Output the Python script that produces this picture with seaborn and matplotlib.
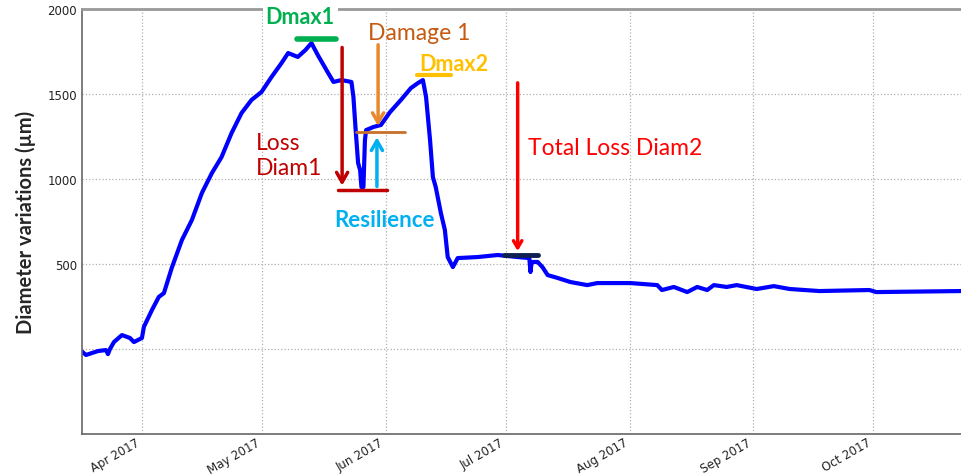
import pandas as pd
import matplotlib.pyplot as plt
import matplotlib.dates as mdates
import seaborn as sns

# Stem diameter variation series
dates = [
    "2017-03-17", "2017-03-18", "2017-03-21", "2017-03-23", "2017-03-23 12:00",
    "2017-03-24", "2017-03-25", "2017-03-27", "2017-03-29", "2017-03-30",
    "2017-04-01", "2017-04-01 12:00", "2017-04-03 12:00", "2017-04-05 05:00", "2017-04-06 12:00",
    "2017-04-08 12:00", "2017-04-11", "2017-04-13 12:00", "2017-04-16", "2017-04-18 12:00",
    "2017-04-20 22:00", "2017-04-23 10:00", "2017-04-25 22:00", "2017-04-28 10:00", "2017-04-30 22:00",
    "2017-05-03 10:00", "2017-05-05 22:00", "2017-05-07 14:00", "2017-05-10", "2017-05-11 22:00",
    "2017-05-13 10:00", "2017-05-15", "2017-05-17 14:00", "2017-05-18 22:00", "2017-05-20 22:00",
    "2017-05-23 10:00", "2017-05-23 22:00", "2017-05-24 10:00", "2017-05-25 02:00", "2017-05-25 14:00",
    "2017-05-25 22:00", "2017-05-26 10:00", "2017-05-26 19:00", "2017-05-27 02:00", "2017-05-28 22:00",
    "2017-05-30 19:00", "2017-06-02 02:00", "2017-06-04 19:00", "2017-06-07 07:00", "2017-06-09 02:00",
    "2017-06-10 07:00", "2017-06-11 02:00", "2017-06-12 02:00", "2017-06-12 19:00", "2017-06-13 12:00",
    "2017-06-14 19:00", "2017-06-15 19:00", "2017-06-16 12:00", "2017-06-17 19:00", "2017-06-19",
    "2017-06-24", "2017-06-29", "2017-07-04", "2017-07-06 22:00", "2017-07-07 05:00",
    "2017-07-07 12:00", "2017-07-09", "2017-07-10 05:00", "2017-07-11 12:00", "2017-07-14",
    "2017-07-17 05:00", "2017-07-21 10:00", "2017-07-23 22:00", "2017-08-01 05:00", "2017-08-07 22:00",
    "2017-08-09 02:00", "2017-08-12 02:00", "2017-08-15 10:00", "2017-08-17 22:00", "2017-08-20 10:00",
    "2017-08-22 02:00", "2017-08-25 07:00", "2017-08-27 19:00", "2017-09-01 19:00", "2017-09-06 02:00",
    "2017-09-10 02:00", "2017-09-17 12:00", "2017-09-30", "2017-10-01 17:00", "2017-10-22 22:00",
]
diameter = [
    -15, -35, -12, -6, -30,
    0, 41, 82, 65, 41,
    65, 131, 229, 306, 329,
    480, 641, 759, 918, 1035,
    1129, 1270, 1388, 1465, 1512,
    1600, 1682, 1741, 1718, 1759,
    1800, 1729, 1624, 1571, 1582,
    1571, 1482, 1306, 1094, 1053,
    953, 953, 1229, 1288, 1306,
    1318, 1394, 1465, 1535, 1565,
    1582, 1482, 1229, 1012, 953,
    800, 700, 541, 482, 535,
    541, 553, 541, 535, 453,
    512, 512, 482, 435, 418,
    394, 376, 388, 388, 376,
    347, 365, 335, 365, 347,
    376, 365, 376, 353, 370,
    353, 341, 347, 335, 341,
]

y_ticks = [0, 500, 1000, 1500, 2000]
y_tick_labels = ["", "500", "1000", "1500", "2000"]

df = pd.DataFrame({"date": pd.to_datetime(dates, format="mixed"), "diameter": diameter})
t = pd.Timestamp

sns.set_style("white")
plt.rcParams["font.family"] = ["DejaVu Sans"]

fig = plt.figure(figsize=(9.61, 4.77), dpi=100)
ax = fig.add_axes([0.0853, 0.088, 0.9147, 0.891])

sns.lineplot(data=df, x="date", y="diameter", color="#0000FF", linewidth=3, ax=ax)

ax.set_xlim(t("2017-03-17 00:00"), t("2017-10-22 22:00"))
ax.set_ylim(-500, 2000)
ax.set_yticks(y_ticks)
ax.set_yticklabels(y_tick_labels)
ax.xaxis.set_major_locator(mdates.MonthLocator())
ax.xaxis.set_major_formatter(mdates.DateFormatter("%b %Y"))
ax.set_xlabel("")
ax.set_ylabel("Diameter variations (µm)", fontsize=14.5, fontweight="bold",
              family=["Lato", "DejaVu Sans"], labelpad=8)
ax.grid(True, color="#b0b0b0", linestyle=":", linewidth=0.9)
ax.tick_params(axis="both", labelsize=8.5, labelcolor="#222222", direction="in",
               length=4, color="#666666")
ax.tick_params(axis="x", pad=1)
plt.setp(ax.get_xticklabels(), rotation=30, ha="right")

for side in ["left", "bottom"]:
    ax.spines[side].set_color("#666666")
    ax.spines[side].set_linewidth(1.2)
ax.spines["top"].set_color("#999999")
ax.spines["top"].set_linewidth(2)
ax.spines["right"].set_visible(False)

fam = ["Lato", "DejaVu Sans"]

# Dmax1
ax.plot([t("2017-05-09 22:00"), t("2017-05-19 14:00")], [1823, 1823], color="#00B050", lw=4)
ax.text(t("2017-05-10 14:00"), 1955, "Dmax1", color="#00B050", fontsize=15.5, fontweight="bold",
        family=fam, ha="center", va="center", zorder=5, clip_on=False,
        bbox=dict(facecolor="white", edgecolor="none", pad=2))

# Loss Diam1
ax.annotate("", xy=(t("2017-05-21 02:00"), 945), xytext=(t("2017-05-21 02:00"), 1790),
            arrowprops=dict(arrowstyle="->,head_length=0.7,head_width=0.4", color="#C00000", lw=2.5))
ax.plot([t("2017-05-20"), t("2017-06-01 07:00")], [935, 935], color="#C00000", lw=2.5)
ax.text(t("2017-04-29 10:00"), 1141, "Loss\nDiam1", color="#C00000", fontsize=16.5,
        family=fam, ha="left", va="center", linespacing=1.25)

# Damage 1
ax.annotate("", xy=(t("2017-05-30 02:00"), 1295), xytext=(t("2017-05-30 02:00"), 1806),
            arrowprops=dict(arrowstyle="->,head_length=0.7,head_width=0.4", color="#E8892B", lw=2.5))
ax.plot([t("2017-05-24 14:00"), t("2017-06-05 19:00")], [1276, 1276], color="#C8702A", lw=2)
ax.text(t("2017-05-27 14:00"), 1859, "Damage 1", color="#C55A11", fontsize=16.5,
        family=fam, ha="left", va="center")

# Resilience
ax.annotate("", xy=(t("2017-05-29 19:00"), 1262), xytext=(t("2017-05-29 19:00"), 940),
            arrowprops=dict(arrowstyle="->,head_length=0.7,head_width=0.4", color="#00B0F0", lw=2.5))
ax.text(t("2017-05-31 19:00"), 759, "Resilience", color="#00B0F0", fontsize=16, fontweight="bold",
        family=fam, ha="center", va="center")

# Dmax2
ax.plot([t("2017-06-08 19:00"), t("2017-06-17 07:00")], [1612, 1612], color="#FFC000", lw=3)
ax.text(t("2017-06-18"), 1682, "Dmax2", color="#FFC000", fontsize=15.5, fontweight="bold",
        family=fam, ha="center", va="center")

# Total Loss Diam2
ax.annotate("", xy=(t("2017-07-04"), 560), xytext=(t("2017-07-04"), 1582),
            arrowprops=dict(arrowstyle="->,head_length=0.5,head_width=0.3", color="#FF0000", lw=2.5))
ax.plot([t("2017-06-30 12:00"), t("2017-07-09")], [553, 553], color="#0F2050", lw=3.5, zorder=4)
ax.text(t("2017-07-06 12:00"), 1188, "Total Loss Diam2", color="#FF0000", fontsize=16.5,
        family=fam, ha="left", va="center")

fig.savefig("out.png", dpi=100)
